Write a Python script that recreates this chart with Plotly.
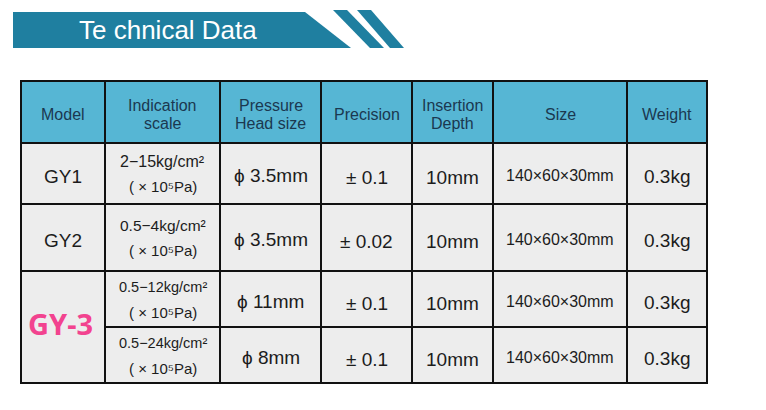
import plotly.graph_objects as go

# --- table content ---
title_text = "Te chnical Data"
headers = ["Model", "Indication<br>scale", "Pressure<br>Head size", "Precision",
           "Insertion<br>Depth", "Size", "Weight"]
models = ["GY1", "GY2", "GY-3"]
scale_ranges = ["2−15kg/cm²", "0.5−4kg/cm²", "0.5−12kg/cm²", "0.5−24kg/cm²"]
scale_unit = "( × 10⁵Pa)"
head_sizes = ["ϕ 3.5mm", "ϕ 3.5mm", "ϕ 11mm", "ϕ 8mm"]
precisions = ["± 0.1", "± 0.02", "± 0.1", "± 0.1"]
depths = ["10mm", "10mm", "10mm", "10mm"]
sizes = ["140×60×30mm", "140×60×30mm", "140×60×30mm", "140×60×30mm"]
weights = ["0.3kg", "0.3kg", "0.3kg", "0.3kg"]

# --- layout geometry (pixel coords on the axes) ---
W, H = 766, 410
col_edges = [21, 105, 220, 321, 412, 493, 627, 707]
row_edges = [81, 143, 204, 271, 327, 383]   # header, 4 body rows

BANNER = "#1f7fa0"
HEAD_FILL = "#56b6d4"
BODY_FILL = "#ededed"
HEAD_TXT = "#1b3850"
BODY_TXT = "#1c1c1c"
PINK = "#f2438f"
FONT = "Liberation Sans, Arial, sans-serif"

fig = go.Figure()
fig.add_trace(go.Scatter(x=[0, W], y=[0, H], mode="markers",
                         marker=dict(opacity=0), hoverinfo="skip", showlegend=False))

shapes = []
ann = []

# title banner and stripes
shapes.append(dict(type="path", path="M 13 12 L 305 12 L 351 48 L 13 48 Z",
                    fillcolor=BANNER, line=dict(width=0)))
shapes.append(dict(type="path", path="M 333 10 L 347 10 L 384 48 L 370 48 Z",
                    fillcolor=BANNER, line=dict(width=0)))
shapes.append(dict(type="path", path="M 357 10 L 371 10 L 404 48 L 390 48 Z",
                    fillcolor=BANNER, line=dict(width=0)))
ann.append(dict(x=168, y=30, text=title_text, showarrow=False,
                font=dict(family=FONT, size=26, color="white")))

def cx(c):
    return (col_edges[c] + col_edges[c + 1]) / 2

def cy(r):
    return (row_edges[r] + row_edges[r + 1]) / 2

# header cells
for c, h in enumerate(headers):
    shapes.append(dict(type="rect", x0=col_edges[c], x1=col_edges[c + 1],
                       y0=row_edges[0], y1=row_edges[1], fillcolor=HEAD_FILL,
                       line=dict(color="#111", width=2)))
    lines = h.split("<br>")
    for i, t in enumerate(lines):
        y = cy(0) + 2 + (i - (len(lines) - 1) / 2) * 18
        ann.append(dict(x=cx(c), y=y, text=t, showarrow=False,
                        font=dict(family=FONT, size=16, color=HEAD_TXT)))

# body cells
for r in range(4):
    for c in range(7):
        if c == 0 and r >= 2:
            continue
        shapes.append(dict(type="rect", x0=col_edges[c], x1=col_edges[c + 1],
                           y0=row_edges[r + 1], y1=row_edges[r + 2], fillcolor=BODY_FILL,
                           line=dict(color="#111", width=2)))
# GY-3 model cell spans the last two rows
shapes.append(dict(type="rect", x0=col_edges[0], x1=col_edges[1],
                   y0=row_edges[3], y1=row_edges[5], fillcolor=BODY_FILL,
                   line=dict(color="#111", width=2)))

# model column
for r, m in enumerate(models[:2]):
    ann.append(dict(x=cx(0), y=cy(r + 1) + 3, text=m, showarrow=False,
                    font=dict(family=FONT, size=19, color=BODY_TXT)))
ann.append(dict(x=cx(0) - 3, y=row_edges[4] - 4, text="<b>" + models[2] + "</b>",
                showarrow=False, font=dict(family="Noto Sans, sans-serif", size=29, color=PINK)))

scale_sizes = [16, 15.5, 14.5, 14.5]
for r in range(4):
    yc = cy(r + 1)
    ann.append(dict(x=cx(1), y=yc - 12, text=scale_ranges[r], showarrow=False,
                    font=dict(family=FONT, size=scale_sizes[r], color=BODY_TXT)))
    ann.append(dict(x=cx(1), y=yc + 13, text=scale_unit, showarrow=False,
                    font=dict(family=FONT, size=15, color=BODY_TXT)))
    ann.append(dict(x=cx(2), y=yc + 2, text=head_sizes[r], showarrow=False,
                    font=dict(family=FONT, size=19, color=BODY_TXT)))
    ann.append(dict(x=cx(3), y=yc + 4, text=precisions[r], showarrow=False,
                    font=dict(family=FONT, size=19, color=BODY_TXT)))
    ann.append(dict(x=cx(4), y=yc + 4, text=depths[r], showarrow=False,
                    font=dict(family=FONT, size=19, color=BODY_TXT)))
    ann.append(dict(x=cx(5), y=yc + 2, text=sizes[r], showarrow=False,
                    font=dict(family=FONT, size=16, color=BODY_TXT)))
    ann.append(dict(x=cx(6), y=yc + 3, text=weights[r], showarrow=False,
                    font=dict(family=FONT, size=19, color=BODY_TXT)))

fig.update_layout(
    width=W, height=H,
    margin=dict(l=0, r=0, t=0, b=0),
    paper_bgcolor="white", plot_bgcolor="white",
    xaxis=dict(range=[0, W], visible=False, fixedrange=True),
    yaxis=dict(range=[H, 0], visible=False, fixedrange=True),
    shapes=shapes, annotations=ann,
    showlegend=False,
)

# page body has an 8px default margin; drop it so the figure sits at (0,0)
fig.write_html("out.html", config={"displayModeBar": False},
               post_script="document.body.style.margin='0';")
